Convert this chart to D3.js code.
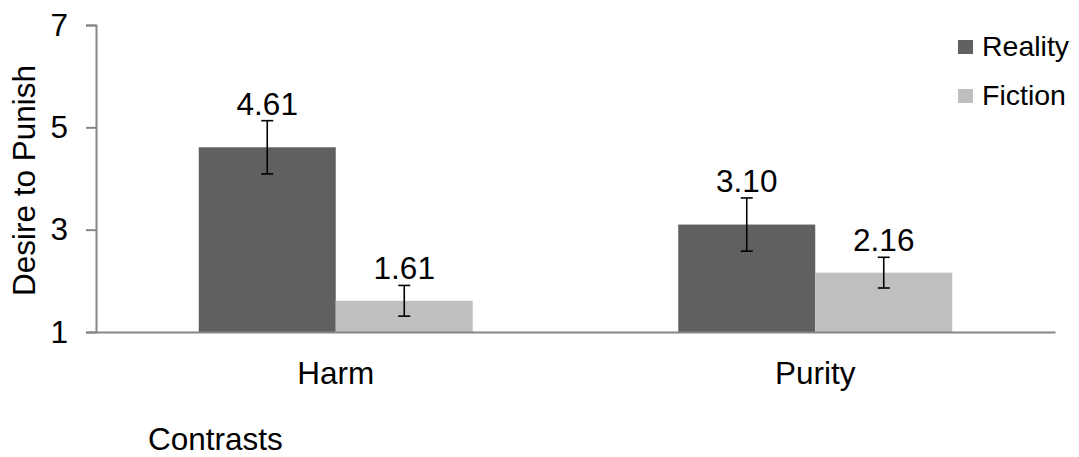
<!DOCTYPE html>
<html>
<head>
<meta charset="utf-8">
<script src="https://cdn.jsdelivr.net/npm/d3@7/dist/d3.min.js"></script>
<style>
  html, body { margin: 0; padding: 0; background: #fff; }
  svg { display: block; font-family: "Liberation Sans", Arial, sans-serif; }
</style>
</head>
<body>
<svg id="chart" width="1079" height="457"></svg>
<script>
const categories = ["Harm", "Purity"];
const seriesNames = ["Reality", "Fiction"];
const realityValues = [4.61, 3.10];
const fictionValues = [1.61, 2.16];
const realityErrors = [0.52, 0.52];
const fictionErrors = [0.30, 0.30];
const yTicks = [1, 3, 5, 7];
const yTitle = "Desire to Punish";
const xTitle = "Contrasts";

(function () {
const colors = { Reality: "#606060", Fiction: "#bfbfbf" };
const axisColor = "#868686";
const fs = "31.5px";

const svg = d3.select("#chart");
const mLeft = 96, mRight = 1055, mTop = 25, mBottom = 332;

const y = d3.scaleLinear().domain([1, 7]).range([mBottom, mTop]);
const x0 = d3.scaleBand().domain(categories).range([mLeft, mRight]).padding(0);
const x1 = d3.scaleBand().domain(seriesNames).range([0, x0.bandwidth()]).paddingInner(0).paddingOuter(0.75);

const data = [];
categories.forEach((c, i) => {
  data.push({ cat: c, series: "Reality", value: realityValues[i], err: realityErrors[i] });
  data.push({ cat: c, series: "Fiction", value: fictionValues[i], err: fictionErrors[i] });
});

// bars
svg.append("g").selectAll("rect").data(data).join("rect")
  .attr("x", d => x0(d.cat) + x1(d.series))
  .attr("y", d => y(d.value))
  .attr("width", x1.bandwidth())
  .attr("height", d => y(1) - y(d.value))
  .attr("fill", d => colors[d.series]);

// y axis
const yAxis = d3.axisLeft(y).tickValues(yTicks).tickSize(10).tickFormat(d3.format("d")).tickPadding(18);
const gy = svg.append("g").attr("transform", `translate(${mLeft},0)`).call(yAxis);
gy.select(".domain").attr("stroke", axisColor).attr("stroke-width", 2);
gy.selectAll(".tick line").attr("stroke", axisColor).attr("stroke-width", 2);
gy.selectAll(".tick text").attr("fill", "#000").style("font-size", fs)
  .attr("font-family", "Liberation Sans, Arial, sans-serif");

// x axis line
const xAxis = d3.axisBottom(x0).tickSize(0).tickPadding(30);
const gx = svg.append("g").attr("transform", `translate(0,${mBottom})`).call(xAxis);
gx.select(".domain").attr("stroke", axisColor).attr("stroke-width", 2);
gx.selectAll(".tick text").attr("fill", "#000").style("font-size", fs)
  .attr("font-family", "Liberation Sans, Arial, sans-serif");

// error bars
const eb = svg.append("g").attr("stroke", "#000").attr("stroke-width", 1.6);
data.forEach(d => {
  const cx = x0(d.cat) + x1(d.series) + x1.bandwidth() / 2;
  const y1 = y(d.value + d.err), y2 = y(d.value - d.err);
  eb.append("line").attr("x1", cx).attr("x2", cx).attr("y1", y1).attr("y2", y2);
  eb.append("line").attr("x1", cx - 6).attr("x2", cx + 6).attr("y1", y1).attr("y2", y1);
  eb.append("line").attr("x1", cx - 6).attr("x2", cx + 6).attr("y1", y2).attr("y2", y2);
});

// value labels
svg.append("g").selectAll("text").data(data).join("text")
  .attr("x", d => x0(d.cat) + x1(d.series) + x1.bandwidth() / 2)
  .attr("y", d => y(d.value + d.err) - 6)
  .attr("text-anchor", "middle")
  .style("font-size", fs)
  .text(d => d.value.toFixed(2));

// y title
svg.append("text")
  .attr("transform", `translate(35,${(mTop + mBottom) / 2 + 2}) rotate(-90)`)
  .attr("text-anchor", "middle")
  .style("font-size", fs)
  .text(yTitle);

// x title
svg.append("text").attr("x", 148).attr("y", 450).style("font-size", fs).text(xTitle);

// legend
const lg = svg.append("g");
seriesNames.forEach((s, i) => {
  const ly = 40 + i * 49;
  lg.append("rect").attr("x", 958).attr("y", ly).attr("width", 15).attr("height", 14).attr("fill", colors[s]);
  lg.append("text").attr("x", 982).attr("y", ly + 16).style("font-size", "28.5px").text(s);
});
})();
</script>
</body>
</html>
